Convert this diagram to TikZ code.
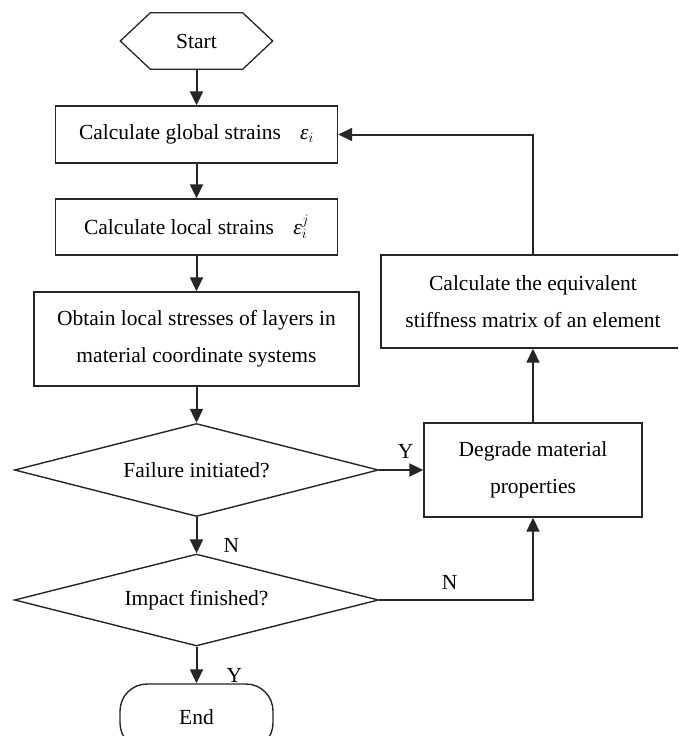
\documentclass[tikz,border=0pt]{standalone}
\usepackage{fontspec}
\setmainfont{Liberation Serif}
\usetikzlibrary{shapes.geometric,arrows.meta}
\newcommand{\epsit}{\mbox{\itshape ε}}
\begin{document}
\begin{tikzpicture}[x=1pt,y=-1pt,
  every node/.style={font=\fontsize{21.5pt}{37pt}\selectfont, text=black},
  procbox/.style={draw=black!85, line width=1.4pt, rectangle, inner sep=0pt, align=center},
  decision/.style={draw=black!85, line width=1.4pt, diamond, aspect=3.9, inner sep=0pt},
  flow/.style={draw=black!85, line width=2pt, -{Triangle[length=14pt,width=13pt]}},
  lab/.style={inner sep=0pt}]
\path[use as bounding box, clip] (0,0) rectangle (678,736);
\fill[white] (0,0) rectangle (678,736);

% Start hexagon
\node[minimum width=152pt, minimum height=56pt, inner sep=0pt] (start) at (196.5,41) {Start};
\draw[black!85, line width=1.3pt] (start.west) -- ([xshift=30pt]start.north west) -- ([xshift=-30pt]start.north east)
  -- (start.east) -- ([xshift=-30pt]start.south east) -- ([xshift=30pt]start.south west) -- cycle;

\node[procbox, minimum width=282pt, minimum height=57pt] (glob) at (196.5,134.5)
  {Calculate global strains\hspace{0.9em}$\epsit_i$};
\node[procbox, minimum width=282pt, minimum height=56pt] (loc) at (196.5,227)
  {Calculate local strains\hspace{0.9em}$\epsit_i^j$};
\node[procbox, minimum width=325pt, minimum height=94pt] (stress) at (196.5,339)
  {Obtain local stresses of layers in\\material coordinate systems};
\node[decision, minimum width=364pt, minimum height=93pt] (fail) at (196.5,470) {Failure initiated?};
\node[decision, minimum width=364pt, minimum height=92pt] (impact) at (196.5,600) {Impact finished?};
\node[draw=black!85, line width=1.4pt, rectangle, rounded corners=27pt, minimum width=153pt,
  minimum height=66pt, inner sep=0pt] (endn) at (196.5,717) {End};

\node[procbox, minimum width=218pt, minimum height=94pt] (degr) at (533,470)
  {Degrade material\\properties};
\node[procbox, minimum width=304pt, minimum height=93pt] (equiv) at (533,301.5)
  {Calculate the equivalent\\stiffness matrix of an element};

% connectors
\draw[flow] (start.south) -- (glob.north);
\draw[flow] (glob.south) -- (loc.north);
\draw[flow] (loc.south) -- (stress.north);
\draw[flow] (stress.south) -- (fail.north);
\draw[flow] (fail.south) -- node[lab, pos=0.78, anchor=west, xshift=26pt] {N} (impact.north);
\draw[flow] (impact.south) -- node[lab, pos=0.79, anchor=west, xshift=29pt] {Y} (endn.north);
\draw[flow] (fail.east) -- node[lab, pos=0.6, yshift=19pt] {Y} (degr.west);
\draw[flow] (impact.east) -| node[lab, pos=0.229, yshift=18pt] {N} (degr.south);
\draw[flow] (degr.north) -- (equiv.south);
\draw[flow] (equiv.north) |- (glob.east);
\end{tikzpicture}
\end{document}
